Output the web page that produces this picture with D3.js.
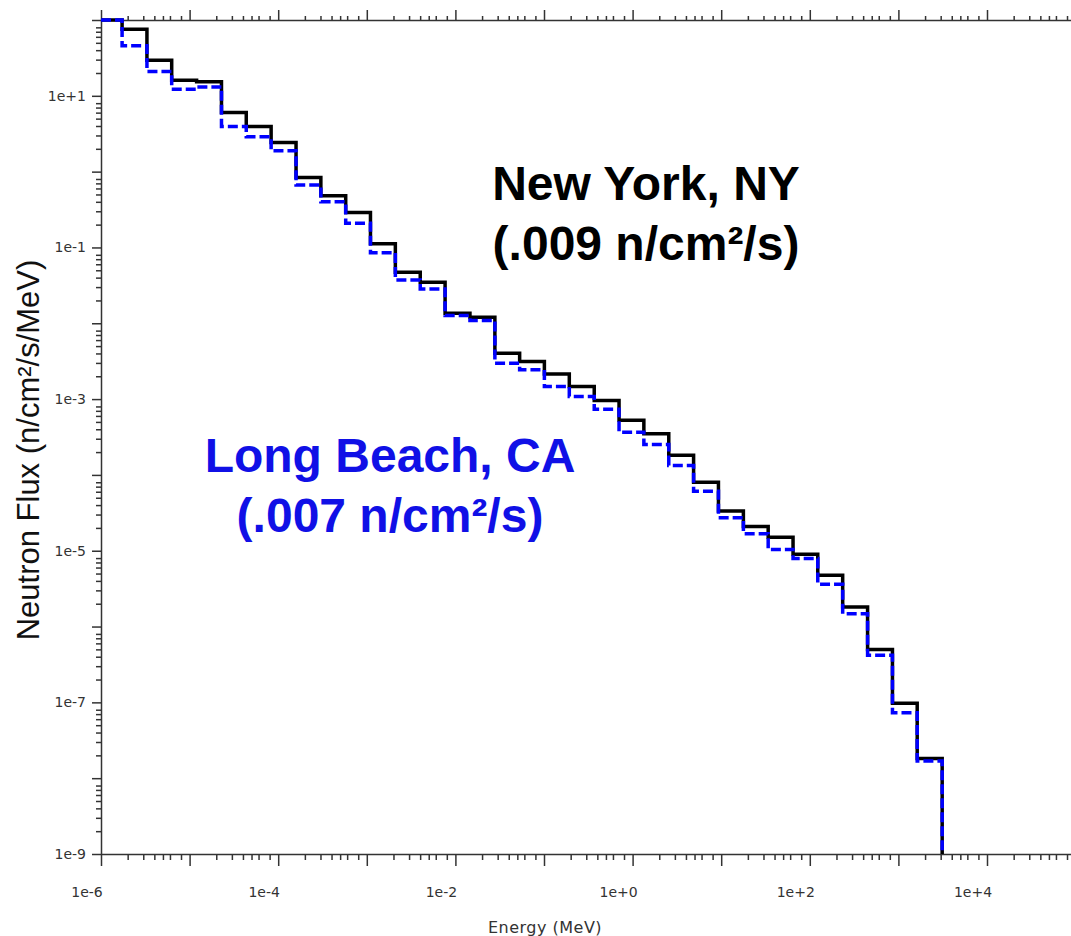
<!DOCTYPE html>
<html>
<head>
<meta charset="utf-8">
<script src="https://cdn.jsdelivr.net/npm/d3@7"></script>
<style>
  body { margin: 0; background: #fff; }
  svg { display: block; }
</style>
</head>
<body>
<script>
// bin edges in MeV
var binEdges = [1e-6, 1.73e-6, 3.30e-6, 6.28e-6, 1.20e-5, 2.29e-5, 4.36e-5, 8.32e-5,
  1.59e-4, 3.03e-4, 5.78e-4, 1.10e-3, 2.10e-3, 4.01e-3, 7.65e-3, 1.46e-2, 2.79e-2,
  5.31e-2, 0.101, 0.193, 0.369, 0.703, 1.34, 2.56, 4.88, 9.31, 17.8, 33.9, 64.7,
  123, 235, 449, 857, 1630, 3120];

// New York, NY (black solid)
var nyFlux = [100, 75.7, 29.5, 16.1, 15.3, 6.03, 3.94, 2.43, 0.839, 0.481, 0.290,
  0.112, 0.0470, 0.0347, 0.01355, 0.0120, 0.00403, 0.00313, 0.00215, 0.00147,
  9.6e-4, 5.27e-4, 3.49e-4, 1.81e-4, 8.03e-5, 3.33e-5, 2.09e-5, 1.51e-5, 8.97e-6,
  4.74e-6, 1.81e-6, 4.98e-7, 9.7e-8, 1.82e-8];

// Long Beach, CA (blue dashed)
var lbFlux = [100, 45.6, 20.9, 12.2, 13.1, 3.94, 2.88, 1.88, 0.665, 0.401, 0.208,
  0.0853, 0.0373, 0.0284, 0.01262, 0.01087, 0.00297, 0.00243, 0.00147, 0.00108,
  7.36e-4, 3.66e-4, 2.52e-4, 1.33e-4, 6.07e-5, 2.73e-5, 1.68e-5, 1.04e-5, 7.87e-6,
  3.61e-6, 1.48e-6, 4.19e-7, 7.28e-8, 1.69e-8];

var xTickValues = [1e-6, 1e-4, 1e-2, 1, 1e2, 1e4];
var xTickLabels = ["1e-6", "1e-4", "1e-2", "1e+0", "1e+2", "1e+4"];
var yTickValues = [1e-9, 1e-7, 1e-5, 1e-3, 1e-1, 1e1];
var yTickLabels = ["1e-9", "1e-7", "1e-5", "1e-3", "1e-1", "1e+1"];
// minor tick multipliers drawn inside each decade
var xMinor = [2, 3, 4, 5, 6, 8];
var yMinor = [2, 3, 4, 5, 6, 7, 8];

var width = 1071, height = 936;
var floor = 1e-9;

var svg = d3.select('body').append('svg')
    .attr('width', width)
    .attr('height', height);

var x = d3.scaleLog().domain([1e-6, 1e5]).range([101, 1075.6]);
var y = d3.scaleLog().domain([1e-9, 1e2]).range([854, 20]);

// decade + minor tick positions
function logTicks(lo, hi, minor){
    var out = [];
    for(var e = lo; e <= hi; e++){
        out.push(Math.pow(10, e));
        if(e < hi){
            minor.forEach(function(m){ out.push(m * Math.pow(10, e)); });
        }
    }
    return out;
}
var xAll = logTicks(-6, 5, xMinor);
var yAll = logTicks(-9, 2, yMinor);
function isDecade(v){
    var l = Math.log10(v);
    return Math.abs(l - Math.round(l)) < 1e-9;
}

var axisColor = '#333';
var tickFont = '"DejaVu Sans", sans-serif';

//Bottom axis
var bottomAxis = svg.append('g')
    .attr('transform', 'translate(0,854)')
    .call(d3.axisBottom(x).tickValues(xAll).tickFormat('').tickSizeOuter(0));
bottomAxis.selectAll('.tick line').attr('y2', function(d){ return isDecade(d) ? 12 : 6; });

//Top axis
var topAxis = svg.append('g')
    .attr('transform', 'translate(0,20)')
    .call(d3.axisTop(x).tickValues(xAll).tickFormat('').tickSizeOuter(0));
topAxis.selectAll('.tick line').attr('y2', function(d){ return isDecade(d) ? -10 : -4; });

//Left axis
var leftAxis = svg.append('g')
    .attr('transform', 'translate(101,0)')
    .call(d3.axisLeft(y).tickValues(yAll).tickFormat('').tickSizeOuter(0));
leftAxis.selectAll('.tick line').attr('x2', function(d){ return isDecade(d) ? -9 : -5; });

svg.selectAll('.domain, .tick line')
    .attr('stroke', axisColor)
    .attr('stroke-width', 1.5);

//tick labels
svg.append('g').selectAll('text')
    .data(xTickValues)
    .enter().append('text')
    .attr('x', function(d){ return x(d) - 14; })
    .attr('y', 897)
    .attr('text-anchor', 'middle')
    .attr('font-family', tickFont)
    .attr('font-size', 14)
    .attr('fill', axisColor)
    .text(function(d, i){ return xTickLabels[i]; });

svg.append('g').selectAll('text')
    .data(yTickValues)
    .enter().append('text')
    .attr('x', 86)
    .attr('y', function(d){ return y(d); })
    .attr('dy', '0.36em')
    .attr('text-anchor', 'end')
    .attr('font-family', tickFont)
    .attr('font-size', 14)
    .attr('fill', axisColor)
    .text(function(d, i){ return yTickLabels[i]; });

//axis titles
svg.append('text')
    .attr('x', 545)
    .attr('y', 933)
    .attr('text-anchor', 'middle')
    .attr('font-family', tickFont)
    .attr('font-size', 16)
    .attr('letter-spacing', 0.5)
    .attr('fill', axisColor)
    .text('Energy (MeV)');

svg.append('text')
    .attr('transform', 'translate(39,450) rotate(-90)')
    .attr('text-anchor', 'middle')
    .attr('font-family', '"Liberation Sans", Arial, sans-serif')
    .attr('font-size', 31)
    .attr('fill', '#111')
    .text('Neutron Flux (n/cm\u00b2/s/MeV)');

//step lines
function stepPoints(vals){
    var pts = vals.map(function(v, i){ return [binEdges[i], v]; });
    pts.push([binEdges[binEdges.length - 1], floor]);
    return pts;
}
var line = d3.line()
    .x(function(d){ return x(d[0]); })
    .y(function(d){ return y(d[1]); })
    .curve(d3.curveStepAfter);

svg.append('path')
    .attr('d', line(stepPoints(nyFlux)))
    .attr('fill', 'none')
    .attr('stroke', '#000')
    .attr('stroke-width', 3.5);

svg.append('path')
    .attr('d', line(stepPoints(lbFlux)))
    .attr('fill', 'none')
    .attr('stroke', '#0000ff')
    .attr('stroke-width', 3.5)
    .attr('stroke-dasharray', '10,4');

//annotations
var bigFont = '"Liberation Sans", Arial, sans-serif';
function label(txt, cx, by, color){
    svg.append('text')
        .attr('x', cx)
        .attr('y', by)
        .attr('text-anchor', 'middle')
        .attr('font-family', bigFont)
        .attr('font-weight', 'bold')
        .attr('font-size', 48)
        .attr('fill', color)
        .text(txt);
}
label('New York, NY', 646, 200, '#000');
label('(.009 n/cm\u00b2/s)', 646, 260, '#000');
label('Long Beach, CA', 390, 472, '#1010e6');
label('(.007 n/cm\u00b2/s)', 390, 532, '#1010e6');
</script>
</body>
</html>
